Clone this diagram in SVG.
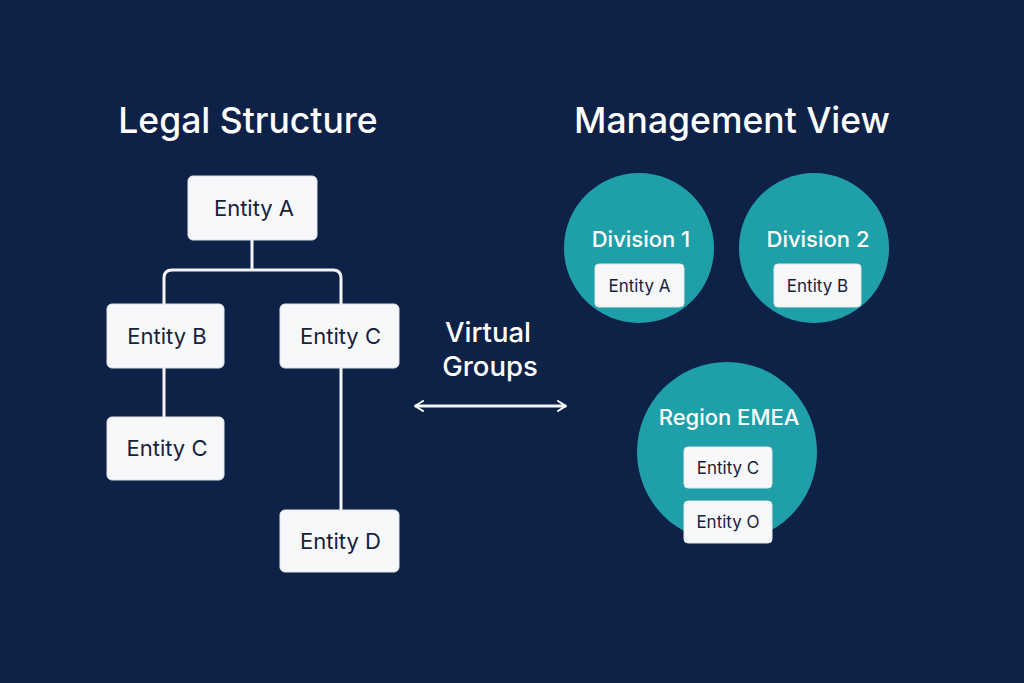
<svg xmlns="http://www.w3.org/2000/svg" width="1024" height="683" viewBox="0 0 1024 683">
<defs>
<style>
.bg{fill:#0e2147}
.title{font-family:Inter,"Liberation Sans",sans-serif;font-size:35.5px;font-weight:500;fill:#ffffff;text-anchor:middle}
.box{fill:#f7f8fa;stroke:#e3e6ea;stroke-width:1}
.lbl{font-family:Inter,"Liberation Sans",sans-serif;font-size:22px;fill:#17213f;text-anchor:middle}
.slbl{font-family:Inter,"Liberation Sans",sans-serif;font-size:17px;fill:#17213f;text-anchor:middle}
.circ{fill:#1fa0a9}
.clbl{font-family:Inter,"Liberation Sans",sans-serif;font-size:22px;font-weight:500;fill:#ffffff;text-anchor:middle}
.vg{font-family:Inter,"Liberation Sans",sans-serif;font-size:27.5px;font-weight:500;fill:#ffffff;text-anchor:middle}
.conn{fill:none;stroke:#f4f5f7;stroke-width:3}
</style>
<marker id="ah" viewBox="0 0 12 12" refX="10" refY="6" markerWidth="12" markerHeight="12" markerUnits="userSpaceOnUse" orient="auto-start-reverse">
<path d="M2,1 L10,6 L2,11" fill="none" stroke="#ffffff" stroke-width="2" stroke-linecap="round" stroke-linejoin="round"/>
</marker>
</defs>
<rect class="bg" x="0" y="0" width="1024" height="683"/>
<text class="title" x="248" y="133">Legal Structure</text>
<text class="title" x="732" y="133">Management View</text>
<g id="connectors">
<path class="conn" d="M252,240 V270 M164,304 V278 Q164,270 172,270 H333 Q341,270 341,278 V304"/>
<path class="conn" d="M164,368 V417"/>
<path class="conn" d="M341,368 V510"/>
<path class="conn" d="M415,406 H566" stroke-width="2.5" marker-start="url(#ah)" marker-end="url(#ah)"/>
</g>
<g id="entityA"><rect class="box" x="188" y="176" width="129" height="64" rx="5"/><text class="lbl" x="254" y="216">Entity A</text></g>
<g id="entityB"><rect class="box" x="107" y="304" width="117" height="64" rx="5"/><text class="lbl" x="167" y="344">Entity B</text></g>
<g id="entityC"><rect class="box" x="280" y="304" width="119" height="64" rx="5"/><text class="lbl" x="340.5" y="344">Entity C</text></g>
<g id="entityC2"><rect class="box" x="107" y="417" width="117" height="63" rx="5"/><text class="lbl" x="167" y="456">Entity C</text></g>
<g id="entityD"><rect class="box" x="280" y="510" width="119" height="62" rx="5"/><text class="lbl" x="340.5" y="549">Entity D</text></g>
<g id="virtualGroups"><text class="vg" x="488" y="342">Virtual</text><text class="vg" x="490" y="376">Groups</text></g>
<g id="division1"><circle class="circ" cx="639" cy="248" r="75"/><text class="clbl" x="641" y="247">Division 1</text><rect class="box" x="595" y="264" width="89" height="43" rx="4"/><text class="slbl" x="639.5" y="292">Entity A</text></g>
<g id="division2"><circle class="circ" cx="814" cy="248" r="75"/><text class="clbl" x="818" y="247">Division 2</text><rect class="box" x="774" y="264" width="87" height="43" rx="4"/><text class="slbl" x="817.5" y="292">Entity B</text></g>
<g id="regionEMEA"><circle class="circ" cx="727" cy="452" r="90"/><text class="clbl" x="729" y="425">Region EMEA</text>
<rect class="box" x="684" y="447" width="88" height="41" rx="4"/><text class="slbl" x="728" y="474">Entity C</text>
<rect class="box" x="684" y="501" width="88" height="42" rx="4"/><text class="slbl" x="728" y="528">Entity O</text></g>
</svg>
